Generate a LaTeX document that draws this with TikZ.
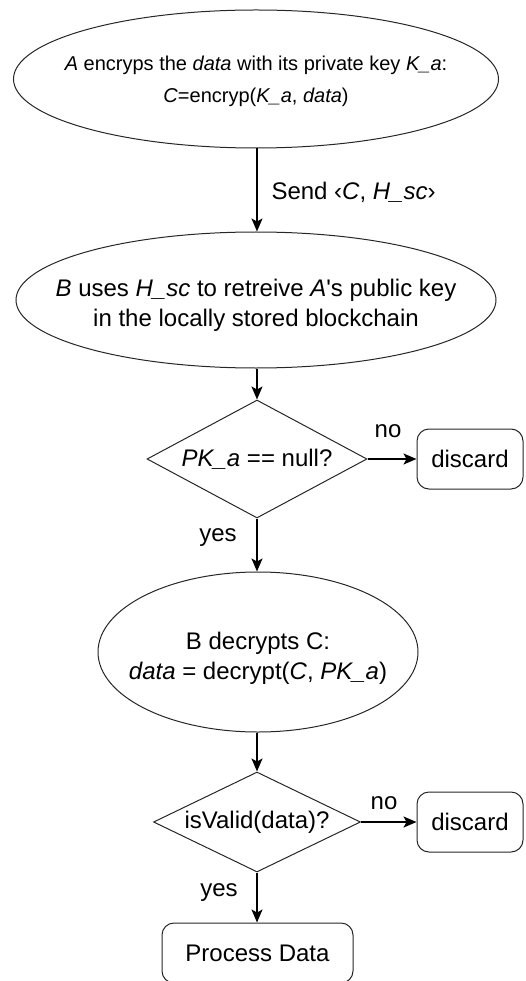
\documentclass[tikz,border=0pt]{standalone}
\usepackage{fontspec}
\setmainfont{Liberation Sans}
\newfontfamily\plainfont[Ligatures=ResetAll]{Liberation Sans}
\usetikzlibrary{shapes.geometric,arrows.meta}
\tikzset{
  outl/.style={draw=black!85, line width=1pt},
  ell/.style={outl, ellipse, inner sep=0pt},
  dia/.style={outl, diamond, inner sep=0pt},
  rbox/.style={outl, rectangle, rounded corners=12pt, inner sep=0pt},
  big/.style={font=\fontsize{24}{30}\selectfont, align=center},
  small/.style={font=\fontsize{20}{32}\selectfont, align=center},
  arr/.style={line width=1.6pt, -{Stealth[length=13pt,width=11pt,inset=3pt]}},
  lbl/.style={font=\fontsize{24}{30}\selectfont}
}
\begin{document}
\begin{tikzpicture}[x=1pt,y=-1pt]
\useasboundingbox (0,0) rectangle (526,981);
\clip (0,0) rectangle (526,981);
% shapes
\node[ell, minimum width=485pt, minimum height=138pt] (e1) at (256,79) {};
\node[small] (e1t) at (256,81) {\textit{A} encryps the \textit{data} with its private key \textit{K\_a}:\\\textit{C}=encryp(\textit{K\_a}, \textit{data})};
\node[ell, minimum width=480pt, minimum height=136pt] (e2) at (256,300) {};
\node[big] (e2t) at (256,305) {\textit{B} uses \textit{H\_sc} to retreive \textit{A}{\plainfont'}s public key\\in the locally stored blockchain};
\node[dia, minimum width=220pt, minimum height=118pt] (d1) at (257,459) {};
\node[big] (d1t) at (257,459) {\textit{PK\_a} == null?};
\node[rbox, minimum width=106pt, minimum height=60pt, big] (x1) at (470,459) {discard};
\node[ell, minimum width=320pt, minimum height=160pt] (e3) at (258,652) {};
\node[big] (e3t) at (258,658) {B decrypts C:\\\textit{data} = decrypt(\textit{C}, \textit{PK\_a})};
\node[dia, minimum width=207pt, minimum height=100pt] (d2) at (257,822) {};
\node[big] (d2t) at (257,822) {isValid(data)?};
\node[rbox, minimum width=106pt, minimum height=60pt, big] (x2) at (470,822) {discard};
\node[rbox, minimum width=191pt, minimum height=60pt, big] (p) at (257.5,953) {Process Data};
% connectors
\draw[arr] (e1.south -| d1.north) -- (e2.north -| d1.north);
\draw[arr] (e2.south -| d1.north) -- (d1.north);
\draw[arr] (d1.south) -- (d1.south |- e3.north);
\draw[arr] (d1.east) -- (x1.west);
\draw[arr] (e3.south -| d2.north) -- (d2.north);
\draw[arr] (d2.south) -- (d2.south |- p.north);
\draw[arr] (d2.east) -- (x2.west);
% labels
\node[lbl, anchor=west] (ls) at (268,192) {Send ‹\textit{C}, \textit{H\_sc}›};
\node[lbl] (ln1) at (388,431) {no};
\node[lbl] (ly1) at (218,538) {yes};
\node[lbl] (ln2) at (384,803) {no};
\node[lbl] (ly2) at (219,893) {yes};
\end{tikzpicture}
\end{document}
